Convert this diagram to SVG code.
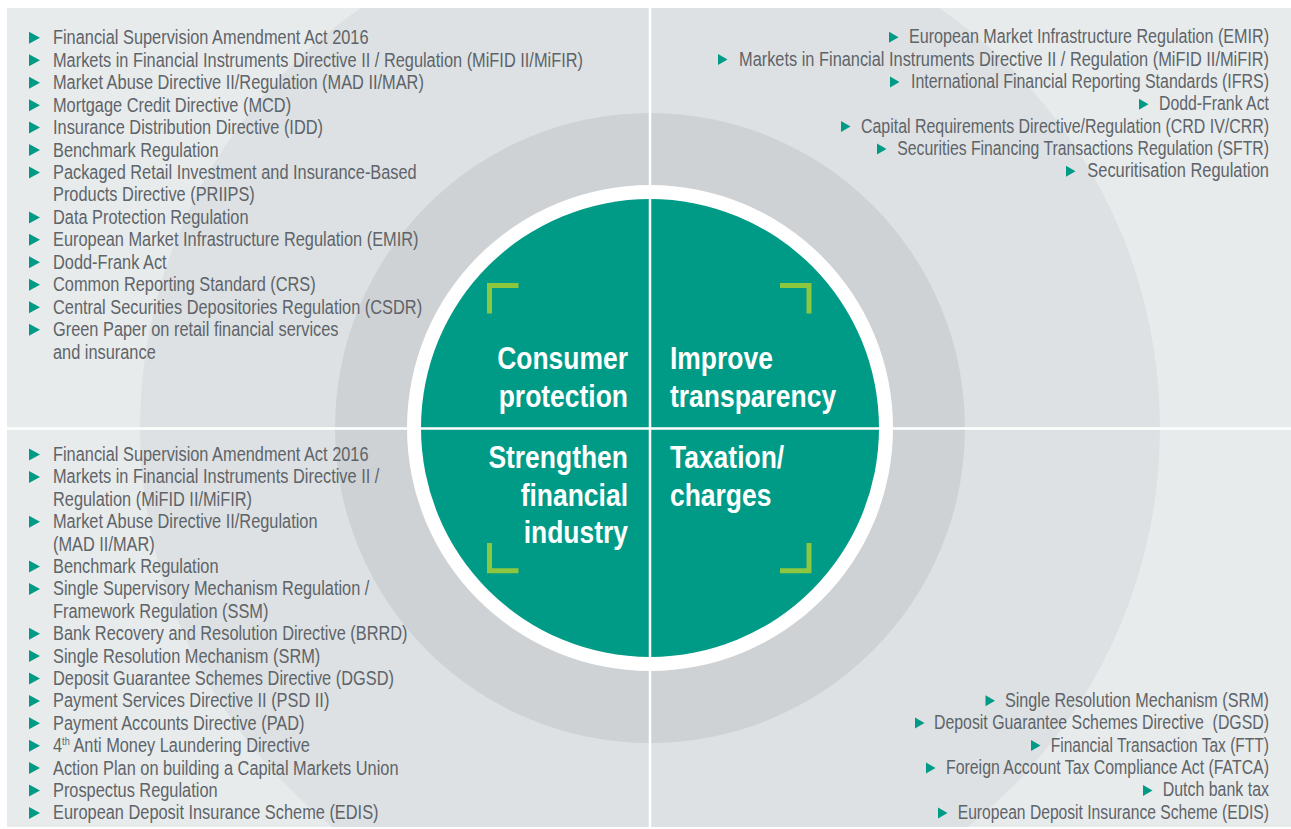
<svg xmlns="http://www.w3.org/2000/svg" xmlns:xlink="http://www.w3.org/1999/xlink" width="1291" height="829" viewBox="0 0 1291 829">
<style>
.lst{font-family:"Liberation Sans",Arial,sans-serif;font-size:19.6px;fill:#5e6469;}
.ttl{font-family:"Liberation Sans",Arial,sans-serif;font-weight:bold;font-size:31.5px;fill:#ffffff;}
.brk{fill:none;stroke:#8dc63f;stroke-width:5;stroke-linejoin:miter;stroke-linecap:butt;}
.sep{stroke:#ffffff;stroke-width:2.5;}
.bt{fill:#009b86;}
</style>
<defs>
<clipPath id="panel"><rect x="7" y="8" width="1284" height="819"/></clipPath>
<polygon id="bl" class="bt" points="0,0 0,12 11,6"/>
<polygon id="br" class="bt" points="0,0 0,11 9.5,5.5"/>
</defs>
<g id="background">
<rect x="0" y="0" width="1291" height="829" fill="#ffffff"/>
<g clip-path="url(#panel)">
<rect x="7" y="8" width="1284" height="819" fill="#e8ebec"/>
<circle cx="650" cy="428" r="510" fill="#dde1e3"/>
<circle cx="650" cy="428" r="315" fill="#ced2d5"/>
<circle cx="650" cy="428" r="243" fill="#ffffff"/>
<circle cx="650" cy="428" r="229" fill="#009b86"/>
</g>
<line class="sep" x1="650" y1="8" x2="650" y2="827"/>
<line class="sep" x1="7" y1="428.5" x2="1291" y2="428.5"/>
</g>
<g id="consumer-protection">
<path class="brk" d="M518.5,285.5 H489.5 V313.5"/>
<g transform="scale(0.84,1)">
<text class="ttl" x="747.62" y="369.3" text-anchor="end">Consumer</text>
<text class="ttl" x="747.62" y="406.8" text-anchor="end">protection</text>
</g>
</g>
<g id="improve-transparency">
<path class="brk" d="M780,285.5 H809 V313.5"/>
<g transform="scale(0.84,1)">
<text class="ttl" x="797.62" y="369.3">Improve</text>
<text class="ttl" x="797.62" y="406.8">transparency</text>
</g>
</g>
<g id="strengthen-financial-industry">
<path class="brk" d="M489.5,543 V570.8 H518.5"/>
<g transform="scale(0.84,1)">
<text class="ttl" x="747.62" y="468.3" text-anchor="end">Strengthen</text>
<text class="ttl" x="747.62" y="505.8" text-anchor="end">financial</text>
<text class="ttl" x="747.62" y="543.3" text-anchor="end">industry</text>
</g>
</g>
<g id="taxation-charges">
<path class="brk" d="M809,543 V570.8 H780"/>
<g transform="scale(0.84,1)">
<text class="ttl" x="797.62" y="468.3">Taxation/</text>
<text class="ttl" x="797.62" y="505.8">charges</text>
</g>
</g>
<g id="list-consumer-protection">
<use xlink:href="#bl" x="29" y="31.8"/>
<use xlink:href="#bl" x="29" y="54.25"/>
<use xlink:href="#bl" x="29" y="76.7"/>
<use xlink:href="#bl" x="29" y="99.15"/>
<use xlink:href="#bl" x="29" y="121.6"/>
<use xlink:href="#bl" x="29" y="144.05"/>
<use xlink:href="#bl" x="29" y="166.5"/>
<use xlink:href="#bl" x="29" y="211.4"/>
<use xlink:href="#bl" x="29" y="233.85"/>
<use xlink:href="#bl" x="29" y="256.3"/>
<use xlink:href="#bl" x="29" y="278.75"/>
<use xlink:href="#bl" x="29" y="301.2"/>
<use xlink:href="#bl" x="29" y="323.65"/>
<g transform="scale(0.835,1)">
<text class="lst" x="63.47" y="44.3">Financial Supervision Amendment Act 2016</text>
<text class="lst" x="63.47" y="66.75">Markets in Financial Instruments Directive II / Regulation (MiFID II/MiFIR)</text>
<text class="lst" x="63.47" y="89.2">Market Abuse Directive II/Regulation (MAD II/MAR)</text>
<text class="lst" x="63.47" y="111.65">Mortgage Credit Directive (MCD)</text>
<text class="lst" x="63.47" y="134.1">Insurance Distribution Directive (IDD)</text>
<text class="lst" x="63.47" y="156.55">Benchmark Regulation</text>
<text class="lst" x="63.47" y="179">Packaged Retail Investment and Insurance-Based</text>
<text class="lst" x="63.47" y="201.45">Products Directive (PRIIPS)</text>
<text class="lst" x="63.47" y="223.9">Data Protection Regulation</text>
<text class="lst" x="63.47" y="246.35">European Market Infrastructure Regulation (EMIR)</text>
<text class="lst" x="63.47" y="268.8">Dodd-Frank Act</text>
<text class="lst" x="63.47" y="291.25">Common Reporting Standard (CRS)</text>
<text class="lst" x="63.47" y="313.7">Central Securities Depositories Regulation (CSDR)</text>
<text class="lst" x="63.47" y="336.15">Green Paper on retail financial services</text>
<text class="lst" x="63.47" y="358.6">and insurance</text>
</g>
</g>
<g id="list-improve-transparency">
<use xlink:href="#br" x="889" y="31.8"/>
<use xlink:href="#br" x="718" y="54.1"/>
<use xlink:href="#br" x="890" y="76.5"/>
<use xlink:href="#br" x="1139" y="98.8"/>
<use xlink:href="#br" x="841" y="121.1"/>
<use xlink:href="#br" x="877" y="143.5"/>
<use xlink:href="#br" x="1066" y="165.8"/>
<g transform="scale(0.82,1)">
<text class="lst" x="1108.54" y="43.3" textLength="439.02" lengthAdjust="spacingAndGlyphs">European Market Infrastructure Regulation (EMIR)</text>
<text class="lst" x="901.22" y="65.6" textLength="646.34" lengthAdjust="spacingAndGlyphs">Markets in Financial Instruments Directive II / Regulation (MiFID II/MiFIR)</text>
<text class="lst" x="1110.98" y="88" textLength="436.59" lengthAdjust="spacingAndGlyphs">International Financial Reporting Standards (IFRS)</text>
<text class="lst" x="1413.41" y="110.3" textLength="134.15" lengthAdjust="spacingAndGlyphs">Dodd-Frank Act</text>
<text class="lst" x="1050" y="132.6" textLength="497.56" lengthAdjust="spacingAndGlyphs">Capital Requirements Directive/Regulation (CRD IV/CRR)</text>
<text class="lst" x="1094.27" y="155" textLength="453.29" lengthAdjust="spacingAndGlyphs">Securities Financing Transactions Regulation (SFTR)</text>
<text class="lst" x="1325.98" y="177.3" textLength="221.59" lengthAdjust="spacingAndGlyphs">Securitisation Regulation</text>
</g>
</g>
<g id="list-strengthen-financial-industry">
<use xlink:href="#bl" x="29" y="448.5"/>
<use xlink:href="#bl" x="29" y="470.9"/>
<use xlink:href="#bl" x="29" y="515.7"/>
<use xlink:href="#bl" x="29" y="560.5"/>
<use xlink:href="#bl" x="29" y="582.9"/>
<use xlink:href="#bl" x="29" y="627.7"/>
<use xlink:href="#bl" x="29" y="650.1"/>
<use xlink:href="#bl" x="29" y="672.5"/>
<use xlink:href="#bl" x="29" y="694.9"/>
<use xlink:href="#bl" x="29" y="717.3"/>
<use xlink:href="#bl" x="29" y="739.7"/>
<use xlink:href="#bl" x="29" y="762.1"/>
<use xlink:href="#bl" x="29" y="784.5"/>
<use xlink:href="#bl" x="29" y="806.9"/>
<g transform="scale(0.835,1)">
<text class="lst" x="63.47" y="461">Financial Supervision Amendment Act 2016</text>
<text class="lst" x="63.47" y="483.4">Markets in Financial Instruments Directive II /</text>
<text class="lst" x="63.47" y="505.8">Regulation (MiFID II/MiFIR)</text>
<text class="lst" x="63.47" y="528.2">Market Abuse Directive II/Regulation</text>
<text class="lst" x="63.47" y="550.6">(MAD II/MAR)</text>
<text class="lst" x="63.47" y="573">Benchmark Regulation</text>
<text class="lst" x="63.47" y="595.4">Single Supervisory Mechanism Regulation /</text>
<text class="lst" x="63.47" y="617.8">Framework Regulation (SSM)</text>
<text class="lst" x="63.47" y="640.2">Bank Recovery and Resolution Directive (BRRD)</text>
<text class="lst" x="63.47" y="662.6">Single Resolution Mechanism (SRM)</text>
<text class="lst" x="63.47" y="685">Deposit Guarantee Schemes Directive (DGSD)</text>
<text class="lst" x="63.47" y="707.4">Payment Services Directive II (PSD II)</text>
<text class="lst" x="63.47" y="729.8">Payment Accounts Directive (PAD)</text>
<text class="lst" x="63.47" y="752.2">4<tspan font-size="11" dy="-7">th</tspan><tspan dy="7"> Anti Money Laundering Directive</tspan></text>
<text class="lst" x="63.47" y="774.6">Action Plan on building a Capital Markets Union</text>
<text class="lst" x="63.47" y="797">Prospectus Regulation</text>
<text class="lst" x="63.47" y="819.4">European Deposit Insurance Scheme (EDIS)</text>
</g>
</g>
<g id="list-taxation-charges">
<use xlink:href="#br" x="985.5" y="695.2"/>
<use xlink:href="#br" x="915" y="717.6"/>
<use xlink:href="#br" x="1031" y="740.1"/>
<use xlink:href="#br" x="926" y="762.5"/>
<use xlink:href="#br" x="1143" y="785"/>
<use xlink:href="#br" x="938" y="807.4"/>
<g transform="scale(0.82,1)">
<text class="lst" x="1225.61" y="706.7" textLength="321.95" lengthAdjust="spacingAndGlyphs">Single Resolution Mechanism (SRM)</text>
<text class="lst" x="1139.02" y="729.1" textLength="408.54" lengthAdjust="spacingAndGlyphs">Deposit Guarantee Schemes Directive&#160; (DGSD)</text>
<text class="lst" x="1281.34" y="751.6" textLength="266.22" lengthAdjust="spacingAndGlyphs">Financial Transaction Tax (FTT)</text>
<text class="lst" x="1153.66" y="774" textLength="393.9" lengthAdjust="spacingAndGlyphs">Foreign Account Tax Compliance Act (FATCA)</text>
<text class="lst" x="1417.93" y="796.5" textLength="129.63" lengthAdjust="spacingAndGlyphs">Dutch bank tax</text>
<text class="lst" x="1167.93" y="818.9" textLength="379.63" lengthAdjust="spacingAndGlyphs">European Deposit Insurance Scheme (EDIS)</text>
</g>
</g>
</svg>
